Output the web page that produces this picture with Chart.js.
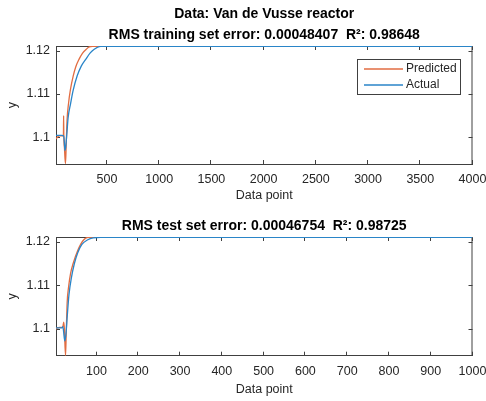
<!DOCTYPE html>
<html>
<head>
<meta charset="utf-8">
<script src="https://cdn.jsdelivr.net/npm/chart.js@4.4.1/dist/chart.umd.min.js"></script>
<style>
  html, body { margin: 0; padding: 0; background: #fff; }
  #wrap { position: relative; width: 486px; height: 401px; }
  .layer { position: absolute; left: 0; top: 0; width: 486px; height: 401px; }
</style>
</head>
<body>
<div id="wrap">
  <div class="layer"><canvas id="train-chart"></canvas></div>
  <div class="layer"><canvas id="test-chart"></canvas></div>
</div>
<script>
// ---- data ----
const seriesNames = ['Predicted', 'Actual'];
const trainTitle = ['Data: Van de Vusse reactor', 'RMS training set error: 0.00048407  R\u00b2: 0.98648'];
const testTitle = ['RMS test set error: 0.00046754  R\u00b2: 0.98725'];
const xLabel = 'Data point';
const yLabel = 'y';
const yTickValues = [1.1, 1.11, 1.12];
const trainXTicks = [500, 1000, 1500, 2000, 2500, 3000, 3500, 4000];
const testXTicks = [100, 200, 300, 400, 500, 600, 700, 800, 900, 1000];

// training set
const trainPredX = [12, 25, 45, 83, 85, 87, 93, 98, 103, 110, 118, 132, 150, 177, 200, 232, 265, 300, 330, 360, 4000];
const trainPredY = [1.0996, 1.1000, 1.1003, 1.1003, 1.1050, 1.1002, 1.0975, 1.0952, 1.0939, 1.0985, 1.1040, 1.1078, 1.1110, 1.1142, 1.1162, 1.1180, 1.1194, 1.1203, 1.1209, 1.1210, 1.1210];
const trainActX = [12, 40, 70, 86, 92, 98, 104, 115, 128, 152, 175, 215, 255, 296, 340, 375, 440, 4000];
const trainActY = [1.1004, 1.1004, 1.1004, 1.1003, 1.0988, 1.0969, 1.0975, 1.1005, 1.1045, 1.1078, 1.1107, 1.1142, 1.1165, 1.1180, 1.1195, 1.1203, 1.1210, 1.1210];

// test set
const testPredX = [3, 6, 12, 19, 21.5, 23, 25.8, 27.5, 29.7, 33, 38, 44, 55, 68, 80, 1000];
const testPredY = [1.0999, 1.1002, 1.1003, 1.1003, 1.1015, 1.1000, 1.0938, 1.0990, 1.1060, 1.1095, 1.1128, 1.1150, 1.1180, 1.1203, 1.1210, 1.1210];
const testActX = [3, 10, 17, 19.5, 21, 24, 27, 30, 34, 40, 47, 55, 65, 78, 92, 110, 1000];
const testActY = [1.1002, 1.1002, 1.1002, 1.1005, 1.0995, 1.0972, 1.0990, 1.1030, 1.1078, 1.1118, 1.1150, 1.1175, 1.1194, 1.1204, 1.1209, 1.1210, 1.1210];

// ---- styling ----
const FONT = "'Liberation Sans', Arial, sans-serif";
const axisColor = '#404040';
const textColor = '#262626';
const predColor = '#E26D42';
const actColor = '#2A85C8';

Chart.defaults.font.family = FONT;
Chart.defaults.color = textColor;

function toPoints(xs, ys) {
  return xs.map((x, i) => ({ x: x, y: ys[i] }));
}

// MATLAB-like axes: inward ticks, box, titles and legend
const matlabAxes = {
  id: 'matlabAxes',
  beforeDatasetsDraw(chart) {
    const { ctx, chartArea: a, scales } = chart;
    ctx.save();
    ctx.strokeStyle = axisColor;
    ctx.lineWidth = 1;
    ctx.beginPath();
    ctx.moveTo(a.left, a.top + 0.5); ctx.lineTo(a.right, a.top + 0.5);
    ctx.moveTo(a.right - 0.5, a.top); ctx.lineTo(a.right - 0.5, a.bottom);
    scales.x.ticks.forEach(t => {
      const px = Math.round(scales.x.getPixelForValue(t.value)) - 0.5;
      ctx.moveTo(px, a.bottom); ctx.lineTo(px, a.bottom - 4);
      ctx.moveTo(px, a.top); ctx.lineTo(px, a.top + 4);
    });
    scales.y.ticks.forEach(t => {
      const py = Math.round(scales.y.getPixelForValue(t.value)) + 0.5;
      ctx.moveTo(a.left, py); ctx.lineTo(a.left + 4, py);
      ctx.moveTo(a.right, py); ctx.lineTo(a.right - 4, py);
    });
    ctx.stroke();
    ctx.restore();
  },
  afterDraw(chart, args, opts) {
    const { ctx, chartArea: a } = chart;
    const cx = (a.left + a.right) / 2;
    ctx.save();
    ctx.fillStyle = '#000';
    ctx.font = 'bold 14px ' + FONT;
    ctx.textAlign = 'center';
    ctx.textBaseline = 'middle';
    (opts.lines || []).forEach((line, i) => {
      ctx.fillText(line, cx, opts.y[i]);
    });
    if (opts.legend) {
      const L = opts.legend;
      ctx.fillStyle = '#fff';
      ctx.fillRect(L.x, L.y, L.w, L.h);
      ctx.strokeStyle = axisColor;
      ctx.lineWidth = 1;
      ctx.strokeRect(L.x + 0.5, L.y + 0.5, L.w, L.h);
      ctx.font = '12px ' + FONT;
      ctx.textAlign = 'left';
      chart.data.datasets.forEach((ds, i) => {
        const ly = L.y + 10 + i * 16;
        ctx.strokeStyle = ds.borderColor;
        ctx.lineWidth = 1.3;
        ctx.beginPath();
        ctx.moveTo(L.x + 7, ly); ctx.lineTo(L.x + 46, ly);
        ctx.stroke();
        ctx.fillStyle = textColor;
        ctx.fillText(ds.label, L.x + 49, ly);
      });
    }
    ctx.restore();
  }
};

function makeChart(id, cfg) {
  const canvas = document.getElementById(id);
  return new Chart(canvas.getContext('2d'), {
    type: 'line',
    data: {
      datasets: [
        {
          label: seriesNames[0],
          data: toPoints(cfg.predX, cfg.predY),
          borderColor: predColor,
          borderWidth: 1.3,
          pointRadius: 0,
          cubicInterpolationMode: 'monotone',
          order: 2
        },
        {
          label: seriesNames[1],
          data: toPoints(cfg.actX, cfg.actY),
          borderColor: actColor,
          borderWidth: 1.3,
          pointRadius: 0,
          cubicInterpolationMode: 'monotone',
          order: 1
        }
      ]
    },
    options: {
      responsive: true,
      maintainAspectRatio: false,
      animation: false,
      layout: { padding: { left: 0, right: 13.5, top: cfg.top, bottom: cfg.padBottom } },
      plugins: {
        legend: { display: false },
        tooltip: { enabled: false },
        matlabAxes: { lines: cfg.title, y: cfg.titleY, legend: cfg.legend }
      },
      scales: {
        x: {
          type: 'linear',
          min: cfg.xMin,
          max: cfg.xMax,
          afterBuildTicks: s => { s.ticks = cfg.xTicks.map(v => ({ value: v })); },
          afterFit: s => { s.height = cfg.xHeight; s.paddingLeft = 0; s.paddingRight = 0; },
          grid: { display: false, drawTicks: false },
          border: { display: true, color: axisColor, width: 1 },
          ticks: {
            autoSkip: false, maxRotation: 0, padding: 8.5, color: textColor, font: { size: 12.5 },
            callback: v => String(v)
          },
          title: { display: true, text: xLabel, color: textColor, font: { size: 12.5 }, padding: 0 }
        },
        y: {
          min: cfg.yMin,
          max: cfg.yMax,
          afterBuildTicks: s => { s.ticks = yTickValues.map(v => ({ value: v })); },
          afterFit: s => { s.width = 56; s.paddingTop = 0; s.paddingBottom = 0; },
          grid: { display: false, drawTicks: false },
          border: { display: true, color: axisColor, width: 1 },
          ticks: {
            padding: 6, color: textColor, font: { size: 12.5 },
            callback: v => String(Number(v.toFixed(4)))
          },
          title: { display: true, text: yLabel, color: textColor, font: { size: 12.5 }, padding: { top: 5.5, bottom: 0 } }
        }
      }
    },
    plugins: [matlabAxes]
  });
}

makeChart('train-chart', {
  predX: trainPredX, predY: trainPredY, actX: trainActX, actY: trainActY,
  xMin: 12, xMax: 4000, xTicks: trainXTicks,
  yMin: 1.0938, yMax: 1.1211,
  top: 46, padBottom: 197.5, xHeight: 39.5,
  title: trainTitle, titleY: [14.5, 35],
  legend: { x: 357, y: 59, w: 103, h: 35 }
});

makeChart('test-chart', {
  predX: testPredX, predY: testPredY, actX: testActX, actY: testActY,
  xMin: 3, xMax: 1000, xTicks: testXTicks,
  yMin: 1.0938, yMax: 1.1211,
  top: 237, padBottom: 3.5, xHeight: 41.8,
  title: testTitle, titleY: [226],
  legend: null
});
</script>
</body>
</html>
